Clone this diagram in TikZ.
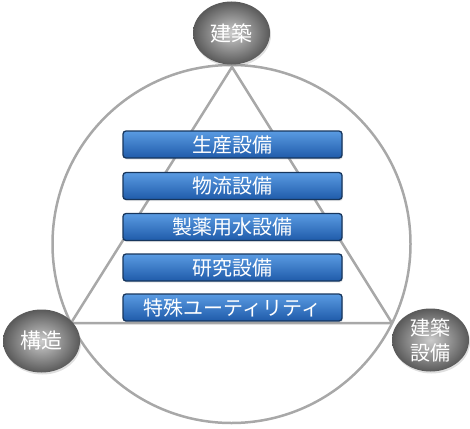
\documentclass[tikz,border=0pt]{standalone}
\usepackage{fontspec}
\setmainfont{Noto Sans CJK JP}
\usetikzlibrary{shapes.geometric,shadows}

\definecolor{lineGray}{HTML}{A8A8A8}
\definecolor{boxTop}{HTML}{5A9BE2}
\definecolor{boxBottom}{HTML}{1F5BAA}
\definecolor{boxEdge}{HTML}{17365D}

\begin{document}
\begin{tikzpicture}[x=1pt,y=-1pt,
  kubun/.style={ellipse,minimum width=77pt,minimum height=63pt,inner sep=0pt,
    shading=radial,inner color=gray!40,outer color=black!65,
    drop shadow={opacity=0.25,shadow xshift=1pt,shadow yshift=-2pt},
    text=white,font=\fontsize{21}{25}\selectfont},
  setsubi/.style={rounded corners=3pt,draw=boxEdge,line width=1.3pt,
    top color=boxTop,bottom color=boxBottom,
    minimum width=219pt,minimum height=27pt,inner sep=0pt,
    drop shadow={opacity=0.2,shadow xshift=1pt,shadow yshift=-1.5pt},
    text=white,font=\fontsize{20}{24}\selectfont}]
  \useasboundingbox (0,0) rectangle (470,428);

  \coordinate (O) at (231.5,244);
  \coordinate (A) at (232,67);
  \coordinate (B) at (71,323);
  \coordinate (C) at (392,323);

  \draw[lineGray,line width=2.5pt] (O) circle[radius=179pt];
  \draw[lineGray,line width=2.5pt,line join=round] (A) -- (B) -- (C) -- cycle;

  % 三つの分野
  \node[kubun] (kenchiku) at (231.5,33) {建築};
  \node[kubun] (kouzou) at (41.5,341) {構造};
  \node[kubun,align=center,font=\fontsize{20}{25}\selectfont] (setsubi) at (430.5,340) {建築\\設備};

  \node[setsubi] (seisan) at (232.5,144.5) {生産設備};
  \node[setsubi] (butsuryu) at (232.5,186) {物流設備};
  \node[setsubi] (seiyaku) at (232.5,227) {製薬用水設備};
  \node[setsubi] (kenkyu) at (232.5,267.5) {研究設備};
  \node[setsubi] (tokushu) at (232.5,307.5) {特殊ユーティリティ};
\end{tikzpicture}
\end{document}
